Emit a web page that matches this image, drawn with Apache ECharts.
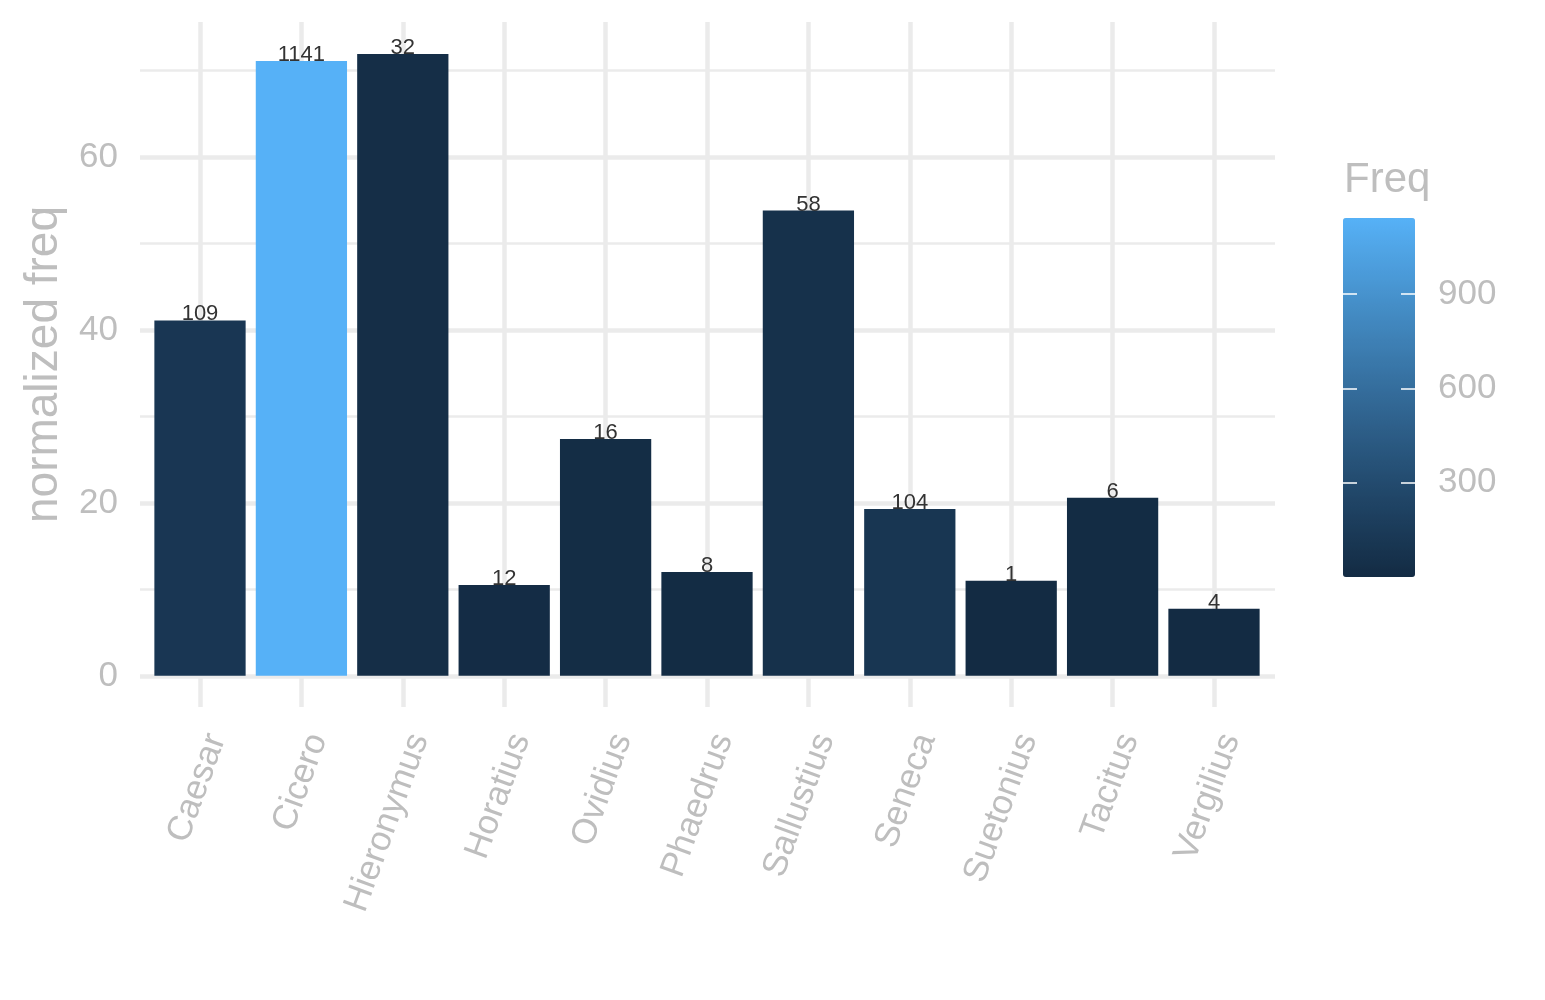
<!DOCTYPE html>
<html>
<head>
<meta charset="utf-8">
<script src="https://cdn.jsdelivr.net/npm/echarts@6/dist/echarts.min.js"></script>
<style>
html,body{margin:0;padding:0;background:#fff;}
#chart{width:1545px;height:1000px;}
</style>
</head>
<body>
<div id="chart"></div>
<script>
// ---- data ----
var categories = ['Caesar','Cicero','Hieronymus','Horatius','Ovidius','Phaedrus','Sallustius','Seneca','Suetonius','Tacitus','Vergilius'];
var normFreq = [41.1, 71.1, 71.9, 10.5, 27.4, 12.0, 53.8, 19.3, 11.0, 20.6, 7.75];
var freq = [109, 1141, 32, 12, 16, 8, 58, 104, 1, 6, 4];
var yTicks = [0, 20, 40, 60];
var legendTicks = [300, 600, 900];
var yRange = [-3.6, 75.6];
var freqRange = [1, 1141];

var GREY = '#BEBEBE';
var GRID = '#EBEBEB';
var FONT = 'Liberation Sans';

var barData = categories.map(function (c, i) { return [c, normFreq[i], freq[i]]; });

var chart = echarts.init(document.getElementById('chart'));
chart.setOption({
  backgroundColor: '#fff',
  animation: false,
  textStyle: { fontFamily: FONT },
  title: {
    text: 'Freq', left: 1344, top: 159, padding: 0,
    textStyle: { fontSize: 42, color: GREY, fontWeight: 'normal', fontFamily: FONT }
  },
  grid: [
    { left: 140, right: 270, top: 22, bottom: 293, outerBoundsMode: 'none' },
    { left: 200, right: 331, top: 22, bottom: 293, outerBoundsMode: 'none' },
    { left: 1343, width: 72, top: 218, height: 359, outerBoundsMode: 'none' }
  ],
  xAxis: [
    { gridIndex: 0, type: 'value', min: 0, max: 1, show: false },
    {
      gridIndex: 1, type: 'category', data: categories, boundaryGap: false,
      axisLine: { show: false }, axisTick: { show: false },
      splitLine: { show: true, lineStyle: { color: GRID, width: 4.5 } },
      axisLabel: { rotate: 70, color: GREY, fontSize: 35, margin: 22, verticalAlign: 'top', fontFamily: FONT, interval: 0 }
    },
    { gridIndex: 2, type: 'value', min: 0, max: 1, show: false }
  ],
  yAxis: [
    {
      gridIndex: 0, type: 'value', min: yRange[0], max: yRange[1], splitNumber: 4,
      axisLine: { show: false }, axisTick: { show: false },
      splitLine: { show: true, showMinLine: false, showMaxLine: false, lineStyle: { color: GRID, width: 4.5 } },
      axisLabel: {
        color: GREY, fontSize: 35, margin: 22, fontFamily: FONT,
        showMinLabel: false, showMaxLabel: false,
        formatter: function (v) { return yTicks.indexOf(v) >= 0 ? String(v) : ''; }
      },
      name: 'normalized freq', nameLocation: 'middle', nameGap: 73,
      nameTextStyle: { fontSize: 46, color: GREY, fontFamily: FONT }
    },
    {
      gridIndex: 0, type: 'value', min: yRange[0], max: yRange[1], splitNumber: 8,
      axisLine: { show: false }, axisTick: { show: false }, axisLabel: { show: false },
      splitLine: { show: true, showMinLine: false, showMaxLine: false, lineStyle: { color: GRID, width: 2.5 } }
    },
    { gridIndex: 1, type: 'value', min: yRange[0], max: yRange[1], show: false },
    {
      gridIndex: 2, type: 'value', min: freqRange[0], max: freqRange[1], splitNumber: 4, position: 'left', z: 10,
      axisLine: { show: false }, splitLine: { show: false }, axisLabel: { show: false },
      axisTick: { show: true, inside: true, length: 14, customValues: legendTicks, lineStyle: { color: '#fff', width: 1.5 } }
    },
    {
      gridIndex: 2, type: 'value', min: freqRange[0], max: freqRange[1], splitNumber: 4, position: 'right', z: 10,
      axisLine: { show: false }, splitLine: { show: false },
      axisTick: { show: true, inside: true, length: 14, customValues: legendTicks, lineStyle: { color: '#fff', width: 1.5 } },
      axisLabel: {
        color: GREY, fontSize: 35, margin: 23, fontFamily: FONT, customValues: legendTicks,
        formatter: function (v) { return legendTicks.indexOf(v) >= 0 ? String(v) : ''; }
      }
    }
  ],
  visualMap: {
    type: 'continuous', min: freqRange[0], max: freqRange[1], dimension: 2, seriesIndex: 0,
    calculable: false, hoverLink: false, itemWidth: 72, itemHeight: 359,
    left: 1343, top: 218, padding: 0,
    inRange: { color: ['#132B43', '#22496C', '#336A98', '#448DC6', '#56B1F7'] }
  },
  series: [{
    type: 'bar', xAxisIndex: 1, yAxisIndex: 2, data: barData,
    encode: { x: 0, y: 1 }, barWidth: '90%', clip: false,
    label: {
      show: true, position: 'top', distance: -5, fontSize: 22, color: '#333333', fontFamily: FONT,
      formatter: function (p) { return String(p.value[2]); }
    }
  }]
});
</script>
</body>
</html>
